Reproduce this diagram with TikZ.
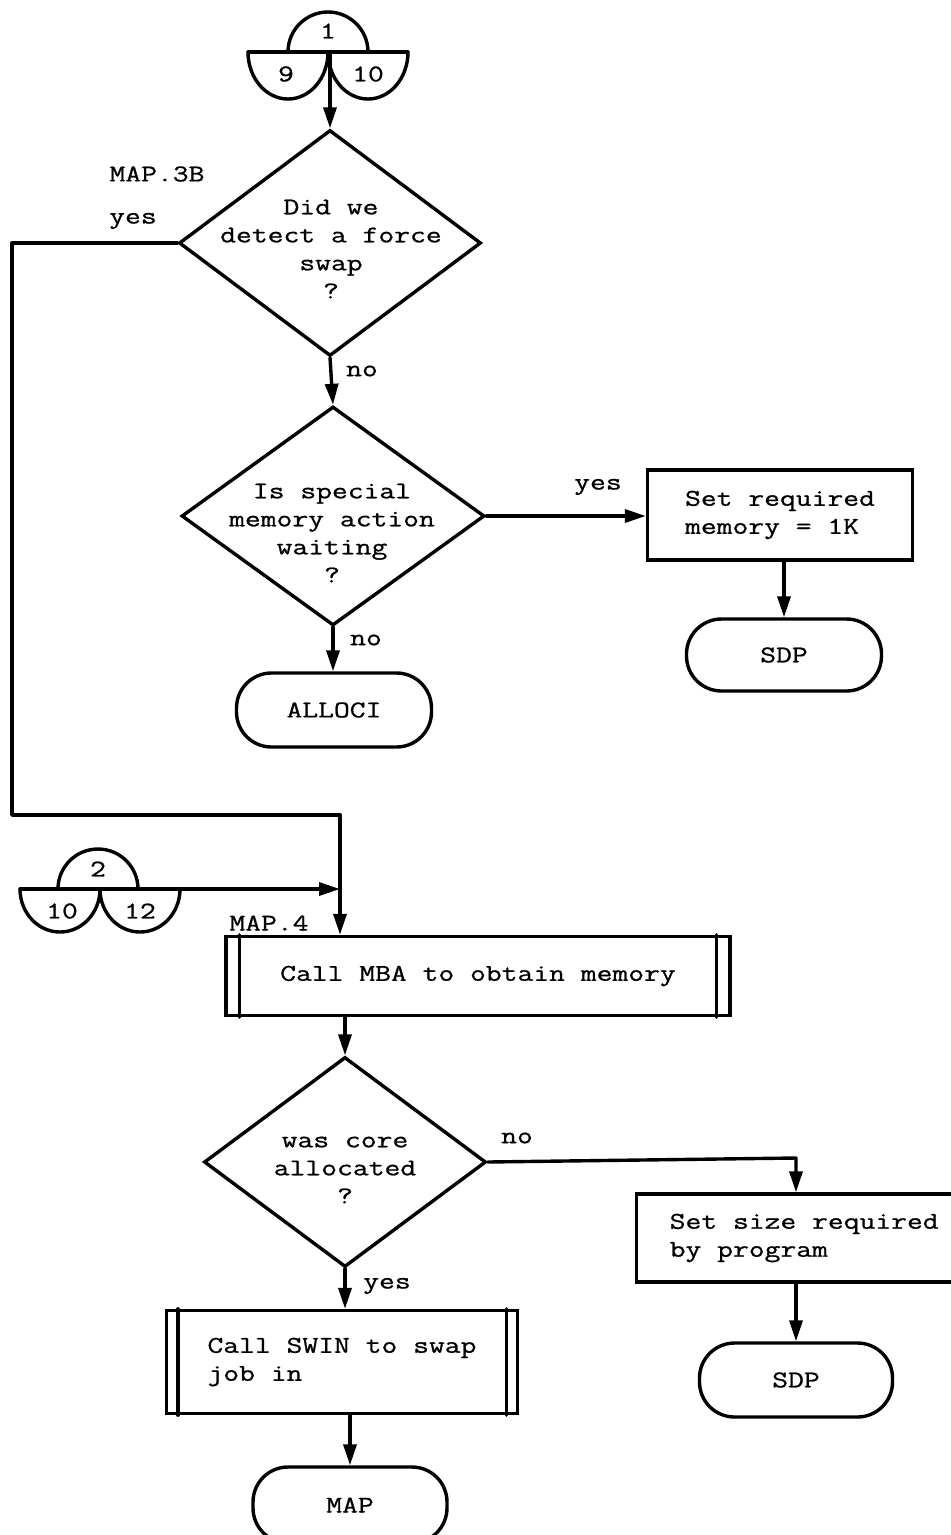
\documentclass[tikz,border=0pt]{standalone}
\usepackage{fontspec}
\setmonofont[FakeStretch=1.28,FakeBold=0.9]{Latin Modern Mono}
\usetikzlibrary{shapes.geometric,arrows.meta}

\tikzset{
  every node/.style={font=\ttfamily\fontsize{24}{28}\selectfont},
  flow/.style={line width=3.4pt, line join=round, line cap=round},
  arr/.style={flow, -{Triangle[length=21pt,width=13pt]}},
  decision/.style={draw, diamond, line width=3.4pt, inner sep=0pt},
  dtext/.style={align=center, inner sep=0pt},
  procbox/.style={draw, rectangle, line width=3.4pt, align=left, inner sep=0pt},
  terminal/.style={draw, rectangle, line width=3.4pt, inner sep=0pt,
                   rounded corners=35pt, minimum width=195pt, minimum height=72pt},
  lbl/.style={inner sep=0pt},
}

\begin{document}
\begin{tikzpicture}[x=1pt,y=-1pt]
\useasboundingbox (0,0) rectangle (951,1535);
\fill[white] (0,0) rectangle (951,1535);
\clip (0,0) rectangle (951,1535);

% ---- off-page connector 1 / 9 / 10 ----
\coordinate (c1) at (328,52);
\draw[flow] (248,52) -- (408,52);
\draw[flow] (288,52) arc[start angle=180,end angle=0,radius=40pt];
\draw[flow] (248,52) arc[start angle=180,end angle=360,x radius=40pt,y radius=47pt];
\draw[flow] (328,52) arc[start angle=180,end angle=360,x radius=40pt,y radius=47pt];
\node[lbl] (c1top) at (328,31) {1};
\node[lbl] (c1left) at (286,74) {9};
\node[lbl] (c1right) at (368,74) {10};

% ---- first decision ----
\node[decision, minimum width=302pt, minimum height=226pt] (d1) at (330,243) {};
\node[dtext] (d1t) at (331,249) {Did we\\detect a force\\swap\\?};
\node[lbl] (map3b) at (157,174) {MAP.3B};
\node[lbl] (yes1) at (133,221) {yes};
\node[lbl] (no1) at (362,371) {no};

% ---- second decision ----
\node[decision, minimum width=303pt, minimum height=219pt] (d2) at (333,516) {};
\node[dtext] (d2t) at (332,533) {Is special\\memory action\\waiting\\?};
\node[lbl] (no2) at (366,640) {no};
\node[lbl] (yes2) at (598,487) {yes};

\node[procbox, minimum width=265pt, minimum height=90pt] (setreq) at (780,515)
  {Set required\\memory = 1K};
\node[terminal] (sdp1) at (784,655) {SDP};
\node[terminal, minimum height=74pt] (alloc) at (334,710) {ALLOCI};

% ---- off-page connector 2 / 10 / 12 ----
\coordinate (c2) at (98,889);
\coordinate (c2e) at (180,889);
\draw[flow] (20,889) -- (c2e);
\draw[flow] (58,889) arc[start angle=180,end angle=0,radius=40pt];
\draw[flow] (20,889) arc[start angle=180,end angle=360,x radius=40pt,y radius=43pt];
\draw[flow] (100,889) arc[start angle=180,end angle=360,x radius=40pt,y radius=43pt];
\node[lbl] (c2top) at (98,869) {2};
\node[lbl] (c2left) at (62,911) {10};
\node[lbl] (c2right) at (140,911) {12};

% ---- memory request ----
\node[lbl] (map4) at (269,923) {MAP.4};
\node[procbox, minimum width=504pt, minimum height=79pt, align=center] (mba) at (478,976)
  {Call MBA to obtain memory};
\draw[flow] ([xshift=15pt]mba.north west) -- ([xshift=15pt]mba.south west);
\draw[flow] ([xshift=-15pt]mba.north east) -- ([xshift=-15pt]mba.south east);

% ---- third decision ----
\node[decision, minimum width=282pt, minimum height=210pt] (d3) at (345,1162) {};
\node[dtext] (d3t) at (345,1170) {was core\\allocated\\?};
\node[lbl] (no3) at (517,1138) {no};
\node[lbl] (yes3) at (387,1286) {yes};

\node[procbox, minimum width=335pt, minimum height=88pt, anchor=west]
  (setsize) at (635,1238) {Set size required\\by program};
\node[terminal, minimum width=193pt, minimum height=74pt] (sdp2) at (796,1380) {SDP};

\node[procbox, minimum width=351pt, minimum height=103pt] (swin) at (342,1362)
  {Call SWIN to swap\\job in};
\draw[flow] ([xshift=13pt]swin.north west) -- ([xshift=13pt]swin.south west);
\draw[flow] ([xshift=-13pt]swin.north east) -- ([xshift=-13pt]swin.south east);
\node[terminal, minimum width=194pt, minimum height=76pt] (map) at (350,1505) {MAP};

% ---- connectors ----
\coordinate (bendA) at (12,243);
\coordinate (bendB) at (12,815);
\coordinate (bendC) at (340,815);
\coordinate (join) at (340,889);

\draw[arr] (d1.north |- c1) -- (d1.north);
\draw[arr] (d1.south) -- (d2.north);
\draw[flow] (d1.west) -- (bendA) -- (bendB) -- (bendC) -- (join);
\draw[arr] (join) -- (join |- mba.north);
\draw[arr] (c2e) -- (join);
\draw[arr] (d2.east) -- (setreq.west |- d2.east);
\draw[arr] (sdp1.north |- setreq.south) -- (sdp1.north);
\draw[arr] (d2.south) -- (d2.south |- alloc.north);
\draw[arr] (d3.north |- mba.south) -- (d3.north);
\coordinate (d3bend) at (796,1158);
\draw[arr] (d3.east) -- (d3bend) -- (d3bend |- setsize.north);
\draw[arr] (sdp2.north |- setsize.south) -- (sdp2.north);
\draw[arr] (d3.south) -- (d3.south |- swin.north);
\draw[arr] (map.north |- swin.south) -- (map.north);
\end{tikzpicture}
\end{document}
